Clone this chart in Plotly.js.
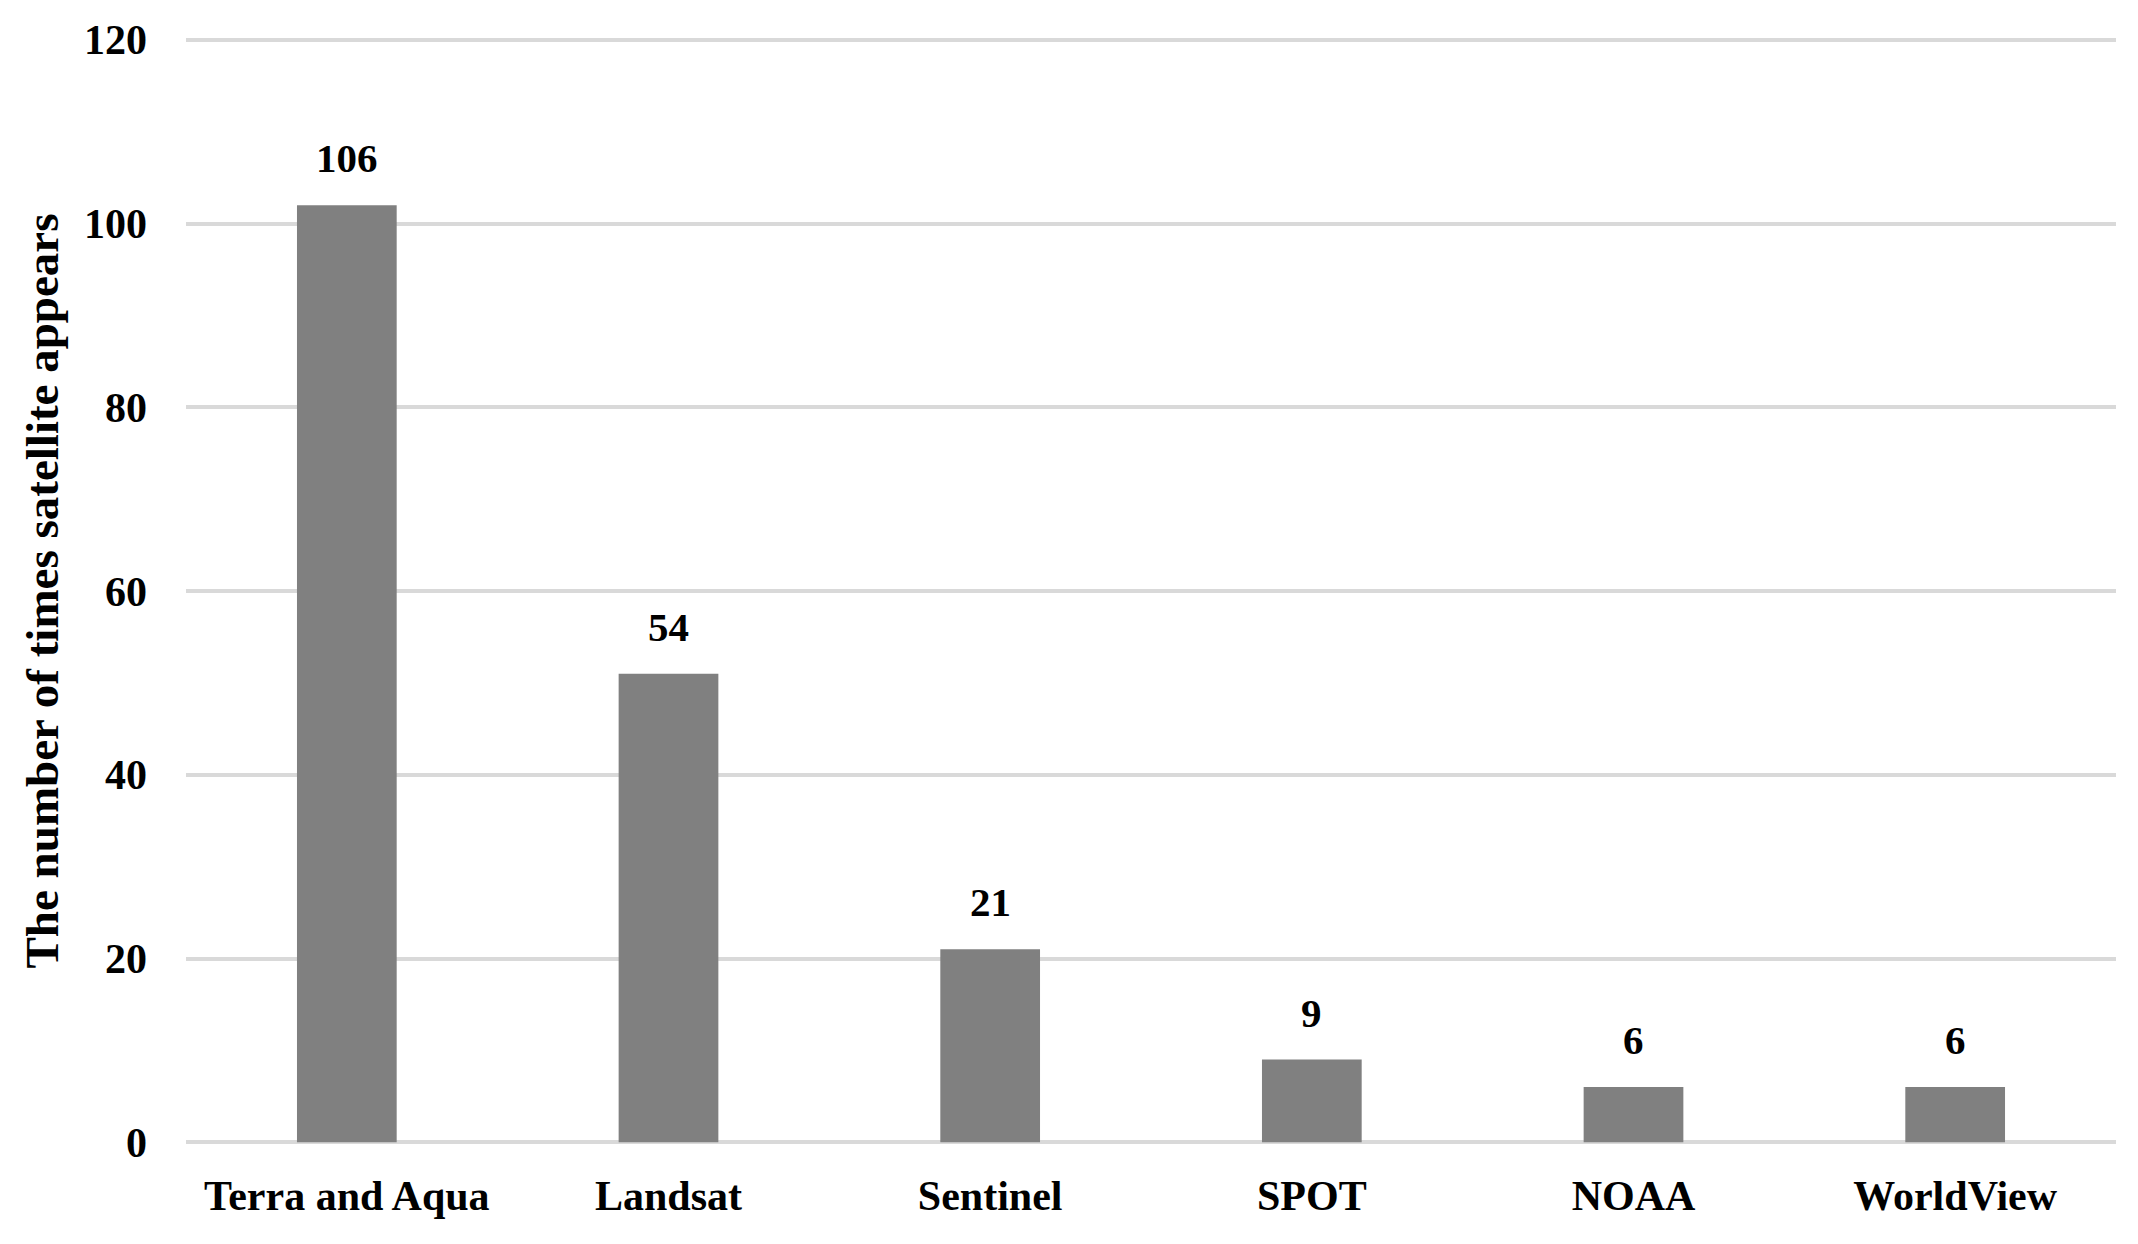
<!DOCTYPE html>
<html>
<head>
<meta charset="utf-8">
<script src="https://cdn.plot.ly/plotly-3.0.1.min.js"></script>
<style>
  html, body { margin: 0; padding: 0; background: #fff; }
  #chart { width: 2138px; height: 1244px; }
</style>
</head>
<body>
<div id="chart"></div>
<script>
// satellites and how often they appear (bar heights as drawn, labels as printed)
var satellites = ["Terra and Aqua", "Landsat", "Sentinel", "SPOT", "NOAA", "WorldView"];
var barValues = [102, 51, 21, 9, 6, 6];
var labelTexts = ["106", "54", "21", "9", "6", "6"];
var yTicks = [0, 20, 40, 60, 80, 100, 120];

var serif = "Liberation Serif, Times New Roman, serif";

var trace = {
  type: "bar",
  x: satellites,
  y: barValues,
  marker: { color: "#808080" },
  hoverinfo: "x+y"
};

// value labels sit a fixed distance above each bar
var labels = satellites.map(function (s, i) {
  return {
    x: s, y: barValues[i], text: labelTexts[i],
    xref: "x", yref: "y", showarrow: false,
    yanchor: "bottom", yshift: 22,
    font: { family: serif, size: 41, color: "#000", weight: "bold" }
  };
});

var layout = {
  width: 2138,
  height: 1244,
  margin: { l: 186, r: 22, t: 37, b: 99 },
  paper_bgcolor: "#fff",
  plot_bgcolor: "#fff",
  bargap: 0.69,
  showlegend: false,
  font: { family: serif, size: 41, color: "#000", weight: "bold" },
  xaxis: {
    type: "category",
    showgrid: false,
    showline: false,
    zeroline: false,
    ticks: "",
    ticklabelstandoff: 22,
    tickfont: { family: serif, size: 42, color: "#000", weight: "bold" }
  },
  yaxis: {
    range: [-0.3, 120.3],
    tickvals: yTicks,
    showgrid: true,
    gridcolor: "#d9d9d9",
    gridwidth: 4,
    zeroline: false,
    showline: false,
    ticks: "",
    ticklabelstandoff: 38,
    tickfont: { family: serif, size: 42, color: "#000", weight: "bold" },
    title: {
      text: "The number of times satellite appears",
      font: { family: serif, size: 47, color: "#000", weight: "bold" },
      standoff: 10
    }
  },
  annotations: labels
};

Plotly.newPlot("chart", [trace], layout, { displayModeBar: false, staticPlot: true });
</script>
</body>
</html>
